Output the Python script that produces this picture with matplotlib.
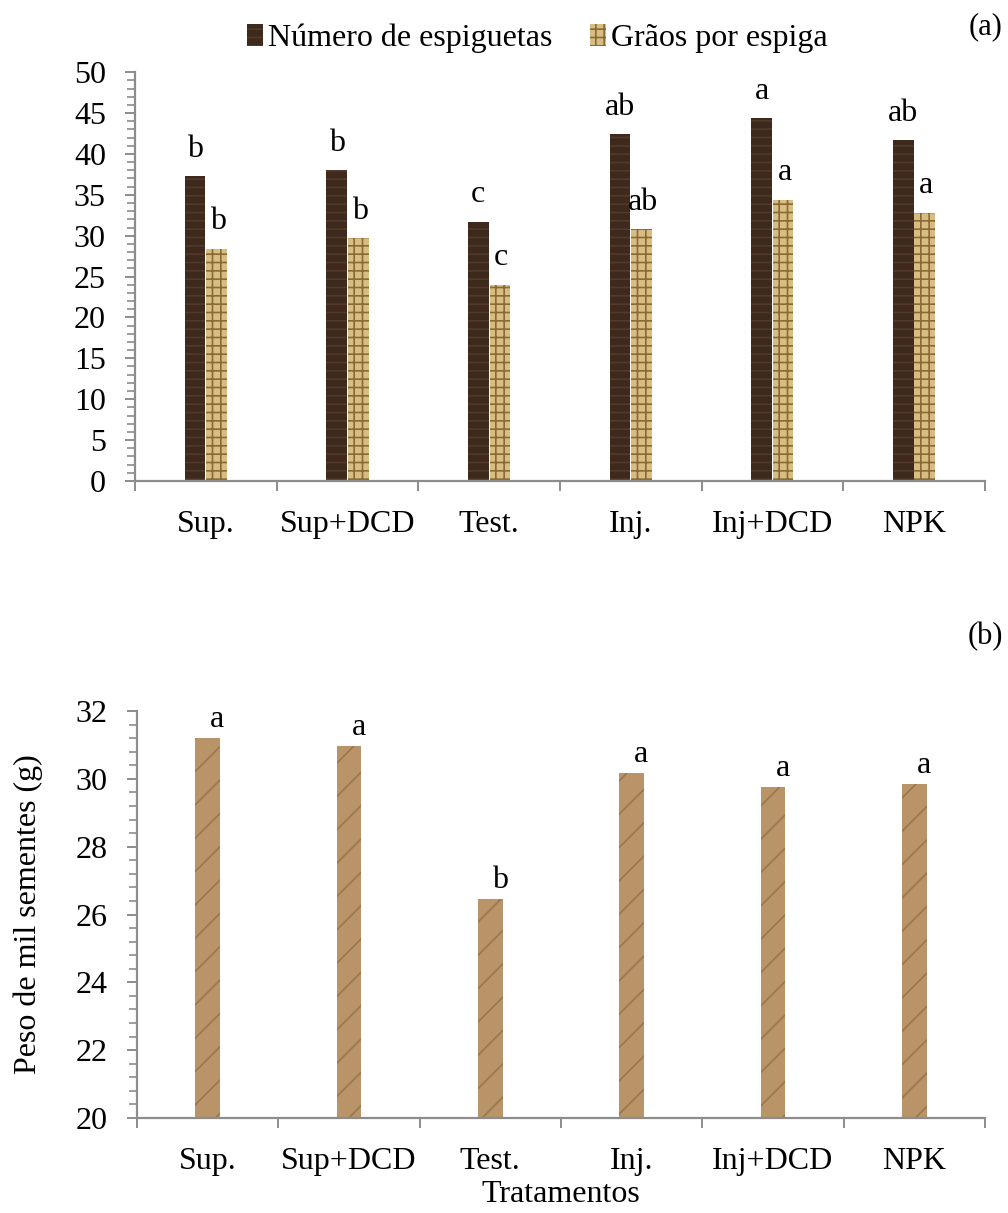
import numpy as np
import matplotlib
matplotlib.use("Agg")
import matplotlib.pyplot as plt
from matplotlib.ticker import MultipleLocator
from matplotlib.patches import Patch

# Dados
tratamentos = ["Sup.", "Sup+DCD", "Test.", "Inj.", "Inj+DCD", "NPK"]
espiguetas = [37.3, 38.0, 31.7, 42.4, 44.4, 41.7]
graos_espiga = [28.4, 29.7, 24.0, 30.8, 34.4, 32.8]
letras_espiguetas = ["b", "b", "c", "ab", "a", "ab"]
letras_graos = ["b", "b", "c", "ab", "a", "a"]
peso_mil = [31.2, 30.97, 26.46, 30.18, 29.76, 29.85]
letras_peso = ["a", "a", "b", "a", "a", "a"]

plt.rcParams["font.family"] = ["Liberation Serif", "DejaVu Serif"]
plt.rcParams["font.size"] = 23
plt.rcParams["hatch.linewidth"] = 1.2

cor_eixo = "#8c8c8c"
cor_escura = "#3e2a1d"
cor_clara = "#d8bd82"
cor_papel = "#b99468"

fig = plt.figure(figsize=(10.08, 12.13), dpi=100)
ax1 = fig.add_axes([0.134, 0.6035, 0.843, 0.337])
ax2 = fig.add_axes([0.136, 0.0783, 0.841, 0.3355])

x = np.arange(len(tratamentos))


def estilo_eixos(ax):
    for lado in ["top", "right"]:
        ax.spines[lado].set_visible(False)
    for lado in ["left", "bottom"]:
        ax.spines[lado].set_color(cor_eixo)
        ax.spines[lado].set_linewidth(1.6)
    ax.set_xlim(-0.5, len(tratamentos) - 0.5)
    # ticks principais nas divisões, nomes no centro das categorias
    ax.set_xticks(np.arange(len(tratamentos) + 1) - 0.5)
    ax.set_xticklabels([])
    ax.set_xticks(x, minor=True)
    ax.set_xticklabels(tratamentos, minor=True)
    ax.tick_params(axis="x", which="major", direction="out", length=7, width=1.4, color=cor_eixo)
    ax.tick_params(axis="x", which="minor", length=0, pad=21)
    ax.tick_params(axis="y", which="major", direction="out", length=7, width=1.4, color=cor_eixo, pad=14)
    ax.tick_params(axis="y", which="minor", direction="out", length=6, width=1.2, color=cor_eixo)


# (a) Número de espiguetas e grãos por espiga
larg = 0.145
desl = 0.076
b1 = ax1.bar(x - desl, espiguetas, larg, color=cor_escura, edgecolor="#54392a",
             hatch="--", linewidth=0)
b2 = ax1.bar(x + desl, graos_espiga, larg, color=cor_clara, edgecolor="#8a6a34",
             hatch="++", linewidth=0)
ax1.set_ylim(0, 50)
ax1.yaxis.set_major_locator(MultipleLocator(5))
ax1.yaxis.set_minor_locator(MultipleLocator(1))
estilo_eixos(ax1)

for xi, v, t in zip(x - desl, espiguetas, letras_espiguetas):
    ax1.annotate(t, (xi, v), xytext=(0, 14), textcoords="offset points",
                 ha="center", va="baseline")
for xi, v, t in zip(x + desl, graos_espiga, letras_graos):
    ax1.annotate(t, (xi, v), xytext=(1, 14), textcoords="offset points",
                 ha="center", va="baseline")

handles = [Patch(facecolor=cor_escura, edgecolor="#54392a", hatch="--", linewidth=0),
           Patch(facecolor=cor_clara, edgecolor="#8a6a34", hatch="++", linewidth=0)]
fig.legend(handles, ["Número de espiguetas", "Grãos por espiga"], loc="upper center",
           bbox_to_anchor=(0.533, 1.004), ncol=2, frameon=False, fontsize=23,
           handlelength=0.5, handleheight=0.7, handletextpad=0.15, columnspacing=1.2)
fig.text(0.978, 0.978, "(a)", ha="center", va="center", fontsize=22)

# (b) Peso de mil sementes
ax2.bar(x, peso_mil, 0.175, color=cor_papel, edgecolor="#9a7650", hatch="/", linewidth=0)
ax2.set_ylim(20, 32)
ax2.yaxis.set_major_locator(MultipleLocator(2))
ax2.yaxis.set_minor_locator(MultipleLocator(0.4))
estilo_eixos(ax2)

for xi, v, t in zip(x, peso_mil, letras_peso):
    ax2.annotate(t, (xi, v), xytext=(7, 8), textcoords="offset points",
                 ha="center", va="baseline")

ax2.set_ylabel("Peso de mil sementes (g)", labelpad=24)
ax2.set_xlabel("Tratamentos", labelpad=3)
fig.text(0.978, 0.475, "(b)", ha="center", va="center", fontsize=22)

fig.savefig("out.png", dpi=100)
